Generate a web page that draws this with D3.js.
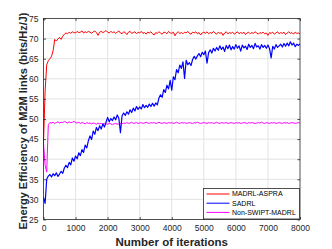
<!DOCTYPE html>
<html>
<head>
<meta charset="utf-8">
<script src="https://cdn.jsdelivr.net/npm/d3@7"></script>
<style>
  body { margin: 0; background: #fff; }
  text { font-family: "Liberation Sans", Arial, sans-serif; }
</style>
</head>
<body>
<svg id="grafico"></svg>
<script>
// Iterations sampled every 50 steps (0 .. 8000)
var passo = 50;
var ticksX = [0, 1000, 2000, 3000, 4000, 5000, 6000, 7000, 8000];
var ticksY = [25, 30, 35, 40, 45, 50, 55, 60, 65, 70, 75];

var nomesSeries = ['MADRL-ASPRA', 'SADRL', 'Non-SWIPT-MADRL'];
var coresSeries = ['#ff0000', '#0000ff', '#ff00ff'];

var madrlAspra = [
  44.0, 57.0, 63.5, 64.5, 65.0, 65.6, 67.0, 69.8, 69.4, 69.9,
  70.3, 69.8, 70.6, 71.1, 71.4, 71.2, 71.6, 71.3, 71.7, 71.5,
  71.4, 71.8, 71.5, 71.6, 71.9, 71.4, 71.7, 71.5, 71.8, 71.6,
  71.3, 71.7, 71.9, 71.5, 70.8, 71.6, 71.8, 71.5, 71.7, 72.0,
  71.6, 71.4, 71.8, 71.5, 71.7, 71.3, 71.6, 71.9, 71.4, 71.2,
  71.7, 71.5, 71.0, 71.6, 71.8, 71.3, 71.5, 71.7, 71.2, 71.6,
  71.4, 71.8, 71.3, 71.5, 71.1, 71.6, 71.4, 71.7, 71.2, 70.9,
  71.5, 71.3, 71.7, 71.4, 71.1, 71.6, 71.5, 71.2, 71.8, 71.4,
  71.3, 71.6, 70.7, 71.4, 71.7, 71.3, 71.5, 71.2, 71.6, 71.4,
  71.8, 71.3, 71.1, 71.6, 71.4, 71.7, 71.2, 71.5, 70.9, 71.4,
  71.6, 71.3, 71.7, 71.2, 71.5, 71.3, 71.8, 71.4, 71.1, 71.6,
  71.3, 71.5, 70.8, 71.4, 71.7, 71.2, 71.5, 71.3, 71.6, 71.1,
  71.4, 71.7, 71.2, 71.5, 71.3, 71.6, 71.0, 71.4, 71.6, 71.2,
  71.5, 71.3, 71.7, 71.4, 71.1, 71.5, 71.3, 71.6, 71.2, 71.4,
  70.8, 71.5, 71.3, 71.6, 71.1, 71.4, 71.7, 71.2, 71.5, 71.3,
  71.6, 71.0, 71.4, 71.7, 71.3, 71.5, 71.1, 71.6, 71.3, 71.4,
  71.2
];

var sadrl = [
  30.5, 29.0, 35.0, 35.8, 36.2, 35.6, 36.4, 35.9, 36.6, 35.7,
  36.3, 37.0, 36.5, 37.8, 38.5, 37.9, 39.2, 38.6, 40.3, 39.5,
  40.8, 40.1, 41.6, 40.9, 42.4, 41.7, 43.5, 42.8, 44.6, 45.8,
  44.9, 47.0, 46.2, 47.9, 47.1, 48.3, 47.5, 48.8, 48.0, 49.2,
  50.4, 49.3, 50.1, 49.6, 50.5, 49.8, 51.0, 50.2, 46.6, 50.8,
  51.5, 50.9, 51.8, 51.2, 52.3, 51.6, 52.7, 52.0, 53.1, 52.4,
  53.0, 52.5, 53.6, 52.8, 53.4, 52.9, 53.7, 53.1, 53.9, 53.2,
  54.0, 53.5, 55.2, 56.0, 55.4, 57.3, 56.6, 58.4, 57.5, 59.6,
  57.2, 60.5, 59.8, 62.3, 61.5, 63.4, 62.6, 64.2, 60.1, 64.6,
  63.5, 64.0, 63.3, 64.8, 65.6, 64.9, 65.7, 66.3, 65.5, 66.6,
  66.0, 66.9, 63.9, 66.5, 67.2, 66.4, 67.6, 66.9, 67.8, 67.1,
  68.2, 67.3, 67.9, 66.8, 68.3, 67.5, 68.4, 67.2, 68.0, 67.4,
  68.5, 67.6, 68.2, 66.9, 68.4, 67.7, 68.1, 67.3, 68.6, 67.8,
  68.3, 67.5, 68.8, 67.9, 68.2, 67.4, 68.5, 67.8, 68.3, 67.6,
  68.4, 67.5, 65.2, 68.1, 67.4, 68.5, 67.8, 68.2, 68.6, 67.9,
  68.8, 68.1, 68.9, 68.2, 69.2, 68.4, 68.9, 68.0, 68.6, 68.3,
  68.7
];

var nonSwiptMadrl = [
  44.0, 38.5, 36.8, 48.6, 49.1, 49.0, 49.2, 48.9, 49.1, 49.3,
  49.0, 49.2, 49.1, 49.4, 49.2, 49.0, 49.3, 49.1, 49.2, 49.4,
  49.1, 49.0, 49.2, 48.9, 49.1, 49.0, 48.8, 49.1, 48.9, 49.0,
  48.8, 49.0, 48.9, 48.7, 49.0, 48.8, 48.9, 48.7, 48.9, 48.8,
  48.7, 48.9, 48.8, 48.6, 48.8, 48.9, 48.7, 48.8, 48.9, 48.8,
  49.0, 48.9, 49.1, 48.9, 49.0, 49.2, 48.9, 49.0, 49.1, 48.9,
  49.0, 49.1, 48.9, 49.0, 49.2, 49.0, 48.9, 49.1, 49.0, 49.1,
  48.9, 49.0, 49.2, 49.0, 48.9, 49.1, 49.0, 48.9, 49.1, 49.0,
  49.1, 48.9, 49.0, 49.2, 49.0, 48.9, 49.1, 49.0, 49.1, 48.9,
  49.0, 49.1, 49.0, 48.9, 49.1, 49.0, 49.2, 49.0, 48.9, 49.0,
  49.1, 49.0, 48.9, 49.1, 49.0, 49.1, 48.9, 49.0, 49.2, 49.0,
  48.9, 49.1, 49.0, 49.0, 49.1, 48.9, 49.0, 49.1, 49.0, 48.9,
  49.1, 49.0, 49.1, 48.9, 49.0, 49.1, 49.0, 48.9, 49.1, 49.0,
  49.1, 49.0, 48.9, 49.0, 49.1, 49.0, 49.2, 49.0, 48.9, 49.1,
  49.0, 48.9, 49.1, 49.0, 49.1, 48.9, 49.0, 49.1, 49.0, 48.9,
  49.1, 49.0, 49.1, 48.9, 49.0, 49.1, 49.0, 48.9, 49.0, 49.1,
  49.0
];

var largura = 332, altura = 249;
var margem = { esquerda: 43.5, direita: 32, superior: 18.5, inferior: 29.5 };
var larguraPlotagem = largura - margem.esquerda - margem.direita;
var alturaPlotagem = altura - margem.superior - margem.inferior;
var corEixo = '#262626';

var svg = d3.select('#grafico')
            .attr('width', largura)
            .attr('height', altura);

var plotagem = svg.append('g')
                  .attr('transform', 'translate(' + margem.esquerda + ',' + margem.superior + ')');

// Scales
var x = d3.scaleLinear().domain([0, 8000]).range([0, larguraPlotagem]);
var y = d3.scaleLinear().domain([25, 75]).range([alturaPlotagem, 0]);

// Grid lines
plotagem.append('g')
        .selectAll('line')
        .data(ticksX.slice(1, -1))
        .join('line')
        .attr('x1', d => x(d)).attr('x2', d => x(d))
        .attr('y1', 0).attr('y2', alturaPlotagem)
        .attr('stroke', '#e3e3e3').attr('stroke-width', 1);
plotagem.append('g')
        .selectAll('line')
        .data(ticksY.slice(1, -1))
        .join('line')
        .attr('x1', 0).attr('x2', larguraPlotagem)
        .attr('y1', d => y(d)).attr('y2', d => y(d))
        .attr('stroke', '#e3e3e3').attr('stroke-width', 1);

// Series lines
var iteracoes = d3.range(0, 8001, passo);
var series = [madrlAspra, sadrl, nonSwiptMadrl];
var linha = d3.line()
              .x((d, i) => x(iteracoes[i]))
              .y(d => y(d));
var larguras = [1, 1.2, 1];
// draw magenta first, then blue, red on top
[2, 1, 0].forEach(function(k) {
  plotagem.append('path')
          .datum(series[k])
          .attr('d', linha)
          .attr('fill', 'none')
          .attr('stroke', coresSeries[k])
          .attr('stroke-width', larguras[k])
          .attr('stroke-linejoin', 'round');
});

// Axes (ticks inward, box on)
function estilizaEixo(g) {
  g.select('.domain').remove();
  g.selectAll('line').attr('stroke', corEixo).attr('stroke-width', 0.8);
  g.selectAll('text').attr('fill', corEixo).style('font-size', '8.5px');
}
plotagem.append('g')
        .attr('transform', 'translate(0,' + alturaPlotagem + ')')
        .call(d3.axisBottom(x).tickValues(ticksX).tickSize(-2.5).tickPadding(5).tickFormat(d3.format('d')))
        .call(estilizaEixo);
plotagem.append('g')
        .call(d3.axisTop(x).tickValues(ticksX).tickSize(-2.5).tickFormat(''))
        .call(estilizaEixo);
plotagem.append('g')
        .call(d3.axisLeft(y).tickValues(ticksY).tickSize(-2.5).tickPadding(5))
        .call(estilizaEixo);
plotagem.append('g')
        .attr('transform', 'translate(' + larguraPlotagem + ',0)')
        .call(d3.axisRight(y).tickValues(ticksY).tickSize(-2.5).tickFormat(''))
        .call(estilizaEixo);

// Box
plotagem.append('rect')
        .attr('x', 0).attr('y', 0)
        .attr('width', larguraPlotagem).attr('height', alturaPlotagem)
        .attr('fill', 'none')
        .attr('stroke', corEixo).attr('stroke-width', 0.8);

// Axis titles
svg.append('text')
   .attr('transform', 'translate(27,' + (margem.superior + alturaPlotagem / 2 + 2) + ') rotate(-90)')
   .style('text-anchor', 'middle')
   .style('font-size', '11px')
   .style('font-weight', 'bold')
   .attr('fill', corEixo)
   .text('Energy Efficiency of M2M links (bits/Hz/J)');
svg.append('text')
   .attr('x', margem.esquerda + larguraPlotagem / 2)
   .attr('y', 245.5)
   .style('text-anchor', 'middle')
   .style('font-size', '11.5px')
   .style('font-weight', 'bold')
   .attr('fill', corEixo)
   .text('Number of iterations');

// Legend (south-east)
var legenda = plotagem.append('g')
                      .attr('transform', 'translate(' + (larguraPlotagem - 96.5) + ',' + (alturaPlotagem - 31) + ')');
legenda.append('rect')
       .attr('width', 96).attr('height', 30.5)
       .attr('fill', '#fff')
       .attr('stroke', corEixo).attr('stroke-width', 0.8);
nomesSeries.forEach(function(nome, i) {
  var yy = 5.5 + i * 9.2;
  legenda.append('line')
         .attr('x1', 3).attr('x2', 26)
         .attr('y1', yy).attr('y2', yy)
         .attr('stroke', coresSeries[i])
         .attr('stroke-width', 1);
  legenda.append('text')
         .attr('x', 28.5).attr('y', yy)
         .attr('dy', '0.35em')
         .style('font-size', '7px')
         .attr('fill', '#000')
         .text(nome);
});
</script>
</body>
</html>
